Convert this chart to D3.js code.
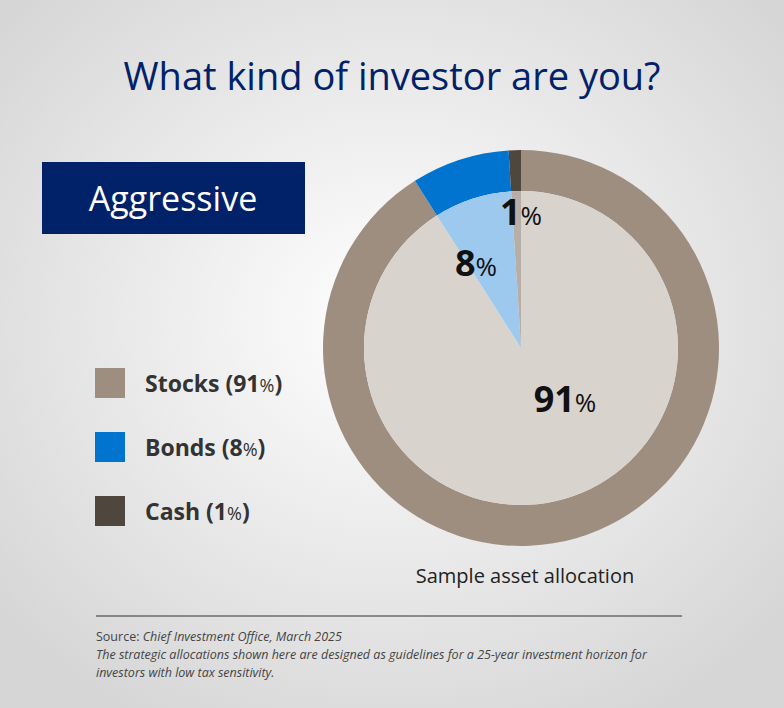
<!DOCTYPE html><html><head><meta charset="utf-8">
<script src="https://cdn.jsdelivr.net/npm/d3@7"></script>
<style>body{margin:0}svg{display:block;font-family:"Open Sans",sans-serif}</style></head><body>
<svg id="c" width="784" height="708"></svg>
<script>
const categories=["Stocks","Bonds","Cash"];
const values=[91,8,1];
const outerColors=["#9e8e80","#0074cf","#4f463e"];
const innerColors=["#d9d3ce","#9ec9ee","#b7aea7"];
const svg=d3.select("#c");
const defs=svg.append("defs");
const g=defs.append("radialGradient").attr("id","bg").attr("cx","50%").attr("cy","45%").attr("r","65%");
g.append("stop").attr("offset","0%").attr("stop-color","#ffffff");
g.append("stop").attr("offset","100%").attr("stop-color","#d6d6d6");
svg.append("rect").attr("width",784).attr("height",708).attr("fill","url(#bg)");
svg.append("text").attr("x",392).attr("y",90).attr("text-anchor","middle").attr("font-size",38).attr("fill","#012169").text("What kind of investor are you?");
svg.append("rect").attr("x",42).attr("y",162).attr("width",263).attr("height",72).attr("fill","#012169");
svg.append("text").attr("x",173).attr("y",211).attr("text-anchor","middle").attr("font-size",34).attr("fill","#fff").text("Aggressive");
const pie=d3.pie().sort(null).value(d=>d)(values);
const cg=svg.append("g").attr("transform","translate(521,348)");
const outer=d3.arc().innerRadius(157).outerRadius(198);
const inner=d3.arc().innerRadius(0).outerRadius(157);
cg.selectAll(".o").data(pie).join("path").attr("d",outer).attr("fill",(d,i)=>outerColors[i]);
cg.selectAll(".i").data(pie).join("path").attr("d",inner).attr("fill",(d,i)=>innerColors[i]);
const labelPos=[[44,64],[-45,-72],[0,-123]];
pie.forEach((d,i)=>{
  const t=cg.append("text").attr("x",labelPos[i][0]).attr("y",labelPos[i][1]).attr("text-anchor","middle").attr("font-weight","bold").attr("font-size",36).attr("fill","#111");
  t.append("tspan").text(values[i]);
  t.append("tspan").attr("font-size",26).attr("font-weight","normal").text("%");
});
categories.forEach((c,i)=>{
  const y=382+i*64;
  svg.append("rect").attr("x",95).attr("y",y-14).attr("width",30).attr("height",30).attr("fill",outerColors[i]);
  const t=svg.append("text").attr("x",145).attr("y",y+10).attr("font-size",23).attr("font-weight","bold").attr("fill","#333");
  t.append("tspan").text(c+" ("+values[i]);
  t.append("tspan").attr("font-size",18).attr("font-weight","normal").text("%");
  t.append("tspan").text(")");
});
svg.append("text").attr("x",525).attr("y",583).attr("text-anchor","middle").attr("font-size",20).attr("fill","#222").text("Sample asset allocation");
svg.append("line").attr("x1",96).attr("x2",682).attr("y1",616).attr("y2",616).attr("stroke","#333").attr("stroke-width",1.2);
const f=svg.append("g").attr("font-size",12.5).attr("fill","#444").attr("font-style","italic");
const s=f.append("text").attr("x",96).attr("y",641);
s.append("tspan").attr("font-style","normal").text("Source:");
s.append("tspan").text(" Chief Investment Office, March 2025");
f.append("text").attr("x",96).attr("y",659).text("The strategic allocations shown here are designed as guidelines for a 25-year investment horizon for");
f.append("text").attr("x",96).attr("y",677).text("investors with low tax sensitivity.");
</script></body></html>
